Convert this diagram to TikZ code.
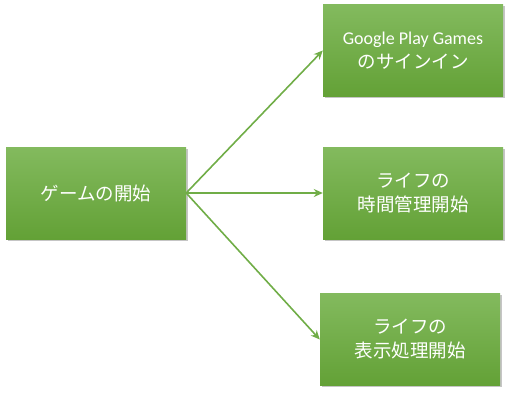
\documentclass[tikz,border=0pt]{standalone}
\usepackage{fontspec}
\setmainfont{Carlito}
\newfontfamily\cjk{Noto Sans CJK JP}[FakeStretch=1.0]
\usetikzlibrary{shadows,arrows.meta}
\definecolor{gline}{HTML}{70AD47}
\definecolor{gtop}{HTML}{83BA5E}
\definecolor{gbot}{HTML}{63A136}
\tikzset{
  box/.style={rectangle, minimum width=180pt, minimum height=92pt, inner sep=0pt,
    top color=gtop, bottom color=gbot, draw=none,
    drop shadow={shadow xshift=1.5pt, shadow yshift=-1.5pt, fill=black!45, opacity=0.5},
    text=white, align=center, font=\fontsize{18.5}{24}\selectfont\cjk},
  conn/.style={draw=gline, line width=1.6pt, -{Stealth[length=9pt,width=8pt]}}
}
\begin{document}
\begin{tikzpicture}[x=1pt,y=-1pt]
\useasboundingbox (0,0) rectangle (512,400);
\node[box] (start) at (96,193) {ゲームの開始};
\node[box] (gpg) at (413,50.5) {{\fontsize{18}{24}\selectfont\rmfamily Google Play Games}\\のサインイン};
\node[box] (life) at (413,193) {ライフの\\時間管理開始};
\node[box] (disp) at (410,339.5) {ライフの\\表示処理開始};
\draw[conn] (start.east) -- (gpg.west);
\draw[conn] (start.east) -- (life.west);
\draw[conn] (start.east) -- (disp.west);
\end{tikzpicture}
\end{document}
